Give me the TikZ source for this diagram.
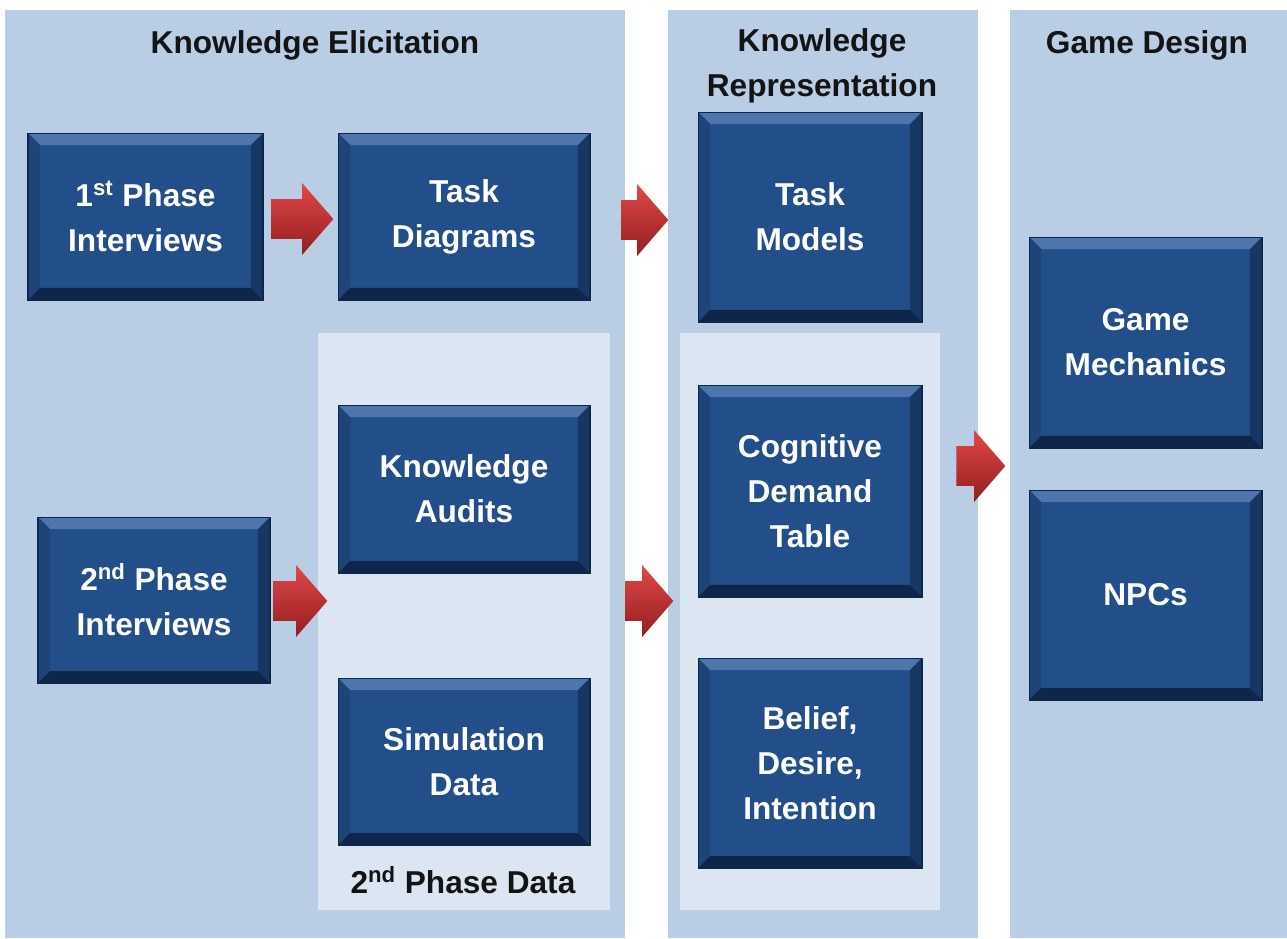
\documentclass[tikz,border=0pt]{standalone}
\usepackage{fontspec}
\setmainfont{Liberation Sans}
\usetikzlibrary{shapes.arrows}

\definecolor{panelblue}{RGB}{185,205,229}
\definecolor{innerblue}{RGB}{220,230,242}
\definecolor{boxblue}{RGB}{34,78,138}
\definecolor{boxtop}{RGB}{78,118,172}
\definecolor{boxleft}{RGB}{30,68,120}
\definecolor{boxright}{RGB}{22,54,100}
\definecolor{boxbottom}{RGB}{14,38,76}
\definecolor{arrowred}{RGB}{226,72,72}
\definecolor{arrowdark}{RGB}{146,30,30}

\newlength\bevelw
\setlength\bevelw{0.24cm}

\tikzset{
  panel/.style={fill=panelblue, inner sep=0pt, anchor=north west},
  subpanel/.style={fill=innerblue, inner sep=0pt, anchor=north west},
  heading/.style={font=\bfseries\fontsize{18}{25.5}\selectfont, text=black!92, align=center},
  stage/.style={fill=boxblue, draw=boxbottom, line width=0.6pt, text=white, align=center,
    font=\bfseries\fontsize{18}{25.5}\selectfont, inner sep=0pt,
    path picture={
      \fill[boxtop] (path picture bounding box.north west) -- (path picture bounding box.north east)
        -- ([xshift=-\bevelw,yshift=-\bevelw]path picture bounding box.north east)
        -- ([xshift=\bevelw,yshift=-\bevelw]path picture bounding box.north west) -- cycle;
      \fill[boxleft] (path picture bounding box.north west) -- (path picture bounding box.south west)
        -- ([xshift=\bevelw,yshift=\bevelw]path picture bounding box.south west)
        -- ([xshift=\bevelw,yshift=-\bevelw]path picture bounding box.north west) -- cycle;
      \fill[boxright] (path picture bounding box.north east) -- (path picture bounding box.south east)
        -- ([xshift=-\bevelw,yshift=\bevelw]path picture bounding box.south east)
        -- ([xshift=-\bevelw,yshift=-\bevelw]path picture bounding box.north east) -- cycle;
      \fill[boxbottom] (path picture bounding box.south west) -- (path picture bounding box.south east)
        -- ([xshift=-\bevelw,yshift=\bevelw]path picture bounding box.south east)
        -- ([xshift=\bevelw,yshift=\bevelw]path picture bounding box.south west) -- cycle;
    }},
  push/.style={single arrow, single arrow head extend=0.32cm, single arrow tip angle=98,
    minimum height=#1, anchor=tail,
    inner xsep=0pt, inner ysep=0.39cm, text height=0pt, text depth=0pt,
    top color=arrowred, bottom color=arrowdark, draw=none},
  push/.default=1cm
}

\begin{document}
\begin{tikzpicture}[x=0.02cm, y=-0.02cm]
\useasboundingbox (0,0) rectangle (1287,938);

% the three columns and the grey-blue inner groups
\node[panel, minimum width=12.4cm, minimum height=18.56cm] (elic) at (5,10) {};
\node[panel, minimum width=6.2cm, minimum height=18.56cm] (repr) at (668,10) {};
\node[panel, minimum width=5.54cm, minimum height=18.56cm] (design) at (1010,10) {};
\node[subpanel, minimum width=5.84cm, minimum height=11.54cm] (data2) at (318,333) {};
\node[subpanel, minimum width=5.2cm, minimum height=11.54cm] (models2) at (680,333) {};

\node[heading] (telic) at (315,45) {Knowledge Elicitation};
\node[heading] (trepr) at (822,66) {Knowledge\\Representation};
\node[heading] (tdesign) at (1147,45) {Game Design};
\node[heading] (tdata2) at (463,880) {2\textsuperscript{nd} Phase Data};

% elicitation
\node[stage, minimum width=4.7cm, minimum height=3.34cm] (int1) at (145.5,216.5) {1\textsuperscript{st} Phase\\Interviews};
\node[stage, minimum width=5.04cm, minimum height=3.34cm] (diag) at (464,216.5) {Task\\Diagrams};
\node[stage, minimum width=4.64cm, minimum height=3.32cm] (int2) at (154,600) {2\textsuperscript{nd} Phase\\Interviews};
\node[stage, minimum width=5.04cm, minimum height=3.36cm] (audit) at (464,489) {Knowledge\\Audits};
\node[stage, minimum width=5.04cm, minimum height=3.34cm] (sim) at (464,761.5) {Simulation\\Data};

% representation
\node[stage, minimum width=4.48cm, minimum height=4.2cm] (tmod) at (810,217) {Task\\Models};
\node[stage, minimum width=4.48cm, minimum height=4.24cm] (cdt) at (810,491) {Cognitive\\Demand\\Table};
\node[stage, minimum width=4.48cm, minimum height=4.2cm] (bdi) at (810,763) {Belief,\\Desire,\\Intention};

% game design
\node[stage, minimum width=4.66cm, minimum height=4.22cm] (mech) at (1145.5,342.5) {Game\\Mechanics};
\node[stage, minimum width=4.66cm, minimum height=4.2cm] (npc) at (1145.5,595) {NPCs};

% block arrows, placed by their tails
\node[push=1.24cm] (a1) at (271,219) {};
\node[push=0.94cm] (a2) at (621,220) {};
\node[push=1.08cm] (a3) at (273,601) {};
\node[push=0.96cm] (a4) at (625,601) {};
\node[push=0.98cm] (a5) at (956,466) {};
\end{tikzpicture}
\end{document}
